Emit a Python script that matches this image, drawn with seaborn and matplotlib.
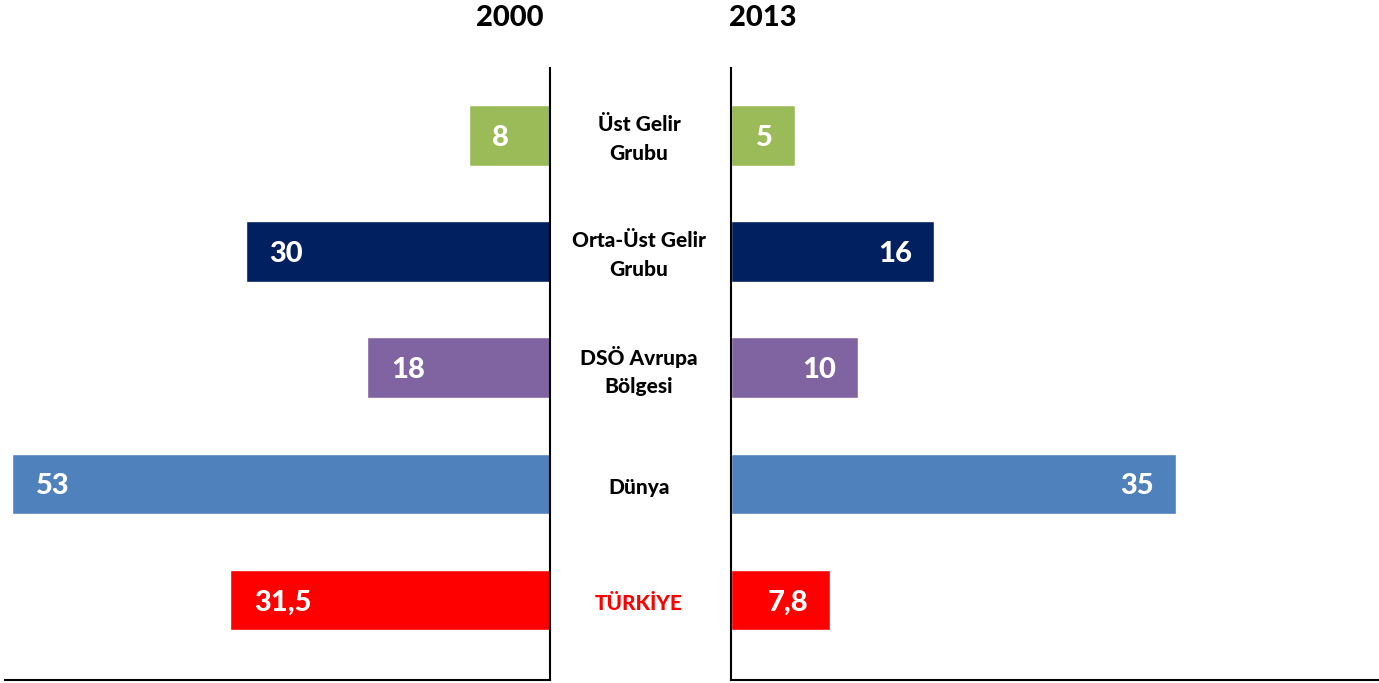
import matplotlib
matplotlib.use("Agg")
import matplotlib.pyplot as plt
import matplotlib.transforms as mtransforms
import seaborn as sns
import pandas as pd

# Veriler
categories = ["Üst Gelir\nGrubu", "Orta-Üst Gelir\nGrubu", "DSÖ Avrupa\nBölgesi", "Dünya", "TÜRKİYE"]
values_2000 = [8, 30, 18, 53, 31.5]
values_2013 = [5, 16, 10, 35, 7.8]
labels_2000 = ["8", "30", "18", "53", "31,5"]
labels_2013 = ["5", "16", "10", "35", "7,8"]
years = ["2000", "2013"]
colors = ["#9BBB59", "#002060", "#8064A2", "#4F81BD", "#FF0000"]
label_colors = ["black", "black", "black", "black", "#FF0000"]

sns.set_theme(style="white")
plt.rcParams["font.family"] = ["Lato", "DejaVu Sans"]

df = pd.DataFrame({"kategori": categories, "y2000": values_2000, "y2013": values_2013})

W, H = 1379, 683
fig = plt.figure(figsize=(W / 100, H / 100), dpi=100)
ax_l = fig.add_axes([5 / W, 3 / H, 545 / W, 612 / H])
ax_r = fig.add_axes([731 / W, 3 / H, 648 / W, 612 / H])

palette = dict(zip(categories, colors))
sns.barplot(data=df, x="y2000", y="kategori", hue="kategori", palette=palette,
            legend=False, width=0.52, saturation=1, ax=ax_l)
sns.barplot(data=df, x="y2013", y="kategori", hue="kategori", palette=palette,
            legend=False, width=0.52, saturation=1, ax=ax_r)

ax_l.set_xlim(53.7, 0)
ax_r.set_xlim(0, 51)
for ax in (ax_l, ax_r):
    ax.set_ylim(4.69, -0.58)
    ax.set_xticks([])
    ax.set_yticks([])
    ax.set_xlabel("")
    ax.set_ylabel("")
    ax.patch.set_alpha(0)
    for s in ax.spines.values():
        s.set_color("black")
        s.set_linewidth(1.5)
ax_l.spines["top"].set_visible(False)
ax_l.spines["left"].set_visible(False)
ax_r.spines["top"].set_visible(False)
ax_r.spines["right"].set_visible(False)

# Değer etiketleri
for i, (v, t) in enumerate(zip(values_2000, labels_2000)):
    ax_l.annotate(t, (v, i), xytext=(17, 0), textcoords="offset points",
                  ha="left", va="center_baseline", color="white",
                  fontsize=21, fontweight="black")
for i, (v, t) in enumerate(zip(values_2013, labels_2013)):
    ax_r.annotate(t, (v, i), xytext=(-16, 0), textcoords="offset points",
                  ha="right", va="center_baseline", color="white",
                  fontsize=21, fontweight="black")

# Kategori etiketleri (ortada)
trans = mtransforms.blended_transform_factory(fig.transFigure, ax_l.transData)
for i, (c, col) in enumerate(zip(categories, label_colors)):
    fig.text(639 / W, i + 0.03, c, transform=trans, ha="center", va="center",
             fontsize=15, fontweight="black", color=col, linespacing=1.6)

# Yıl başlıkları
fig.text(510 / W, 1 - 18 / H, years[0], ha="center", va="center",
         fontsize=21, fontweight="black", color="black")
fig.text(763 / W, 1 - 18 / H, years[1], ha="center", va="center",
         fontsize=21, fontweight="black", color="black")

fig.savefig("out.png", dpi=100)
